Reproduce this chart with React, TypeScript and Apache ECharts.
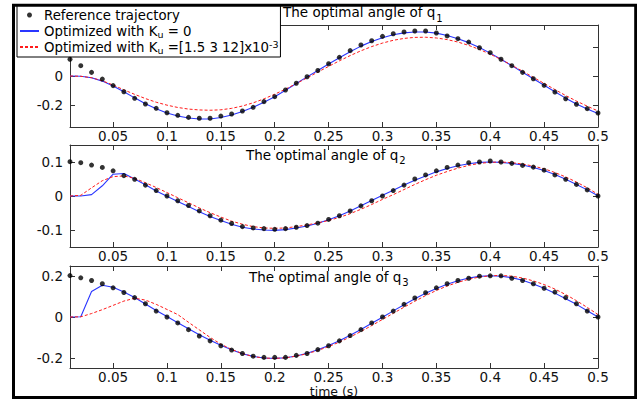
import React, { useEffect, useRef } from 'react';
import * as echarts from 'echarts';

const time = [
  0.01, 0.02, 0.03, 0.04, 0.05, 0.06, 0.07, 0.08, 0.09, 0.10,
  0.11, 0.12, 0.13, 0.14, 0.15, 0.16, 0.17, 0.18, 0.19, 0.20,
  0.21, 0.22, 0.23, 0.24, 0.25, 0.26, 0.27, 0.28, 0.29, 0.30,
  0.31, 0.32, 0.33, 0.34, 0.35, 0.36, 0.37, 0.38, 0.39, 0.40,
  0.41, 0.42, 0.43, 0.44, 0.45, 0.46, 0.47, 0.48, 0.49, 0.50,
];

const q1Ref = [
  0.115, 0.071, 0.025, -0.021, -0.066, -0.108, -0.153, -0.192, -0.222, -0.252,
  -0.270, -0.284, -0.290, -0.290, -0.275, -0.261, -0.240, -0.215, -0.176, -0.142,
  -0.096, -0.050, -0.005, 0.038, 0.084, 0.128, 0.174, 0.213, 0.242, 0.272,
  0.290, 0.302, 0.309, 0.309, 0.295, 0.275, 0.256, 0.233, 0.194, 0.160,
  0.115, 0.071, 0.025, -0.019, -0.064, -0.110, -0.156, -0.194, -0.224, -0.254,
];
const q1Zero = [
  0, -0.002, -0.012, -0.035, -0.068, -0.108, -0.150, -0.190, -0.224, -0.254,
  -0.274, -0.288, -0.295, -0.295, -0.285, -0.268, -0.244, -0.214, -0.180, -0.143,
  -0.098, -0.052, -0.006, 0.038, 0.082, 0.125, 0.167, 0.205, 0.237, 0.263,
  0.283, 0.296, 0.302, 0.302, 0.294, 0.278, 0.256, 0.229, 0.195, 0.157,
  0.115, 0.071, 0.026, -0.019, -0.064, -0.108, -0.152, -0.192, -0.226, -0.258,
];
const q1Ku = [
  0, -0.002, -0.012, -0.033, -0.062, -0.095, -0.126, -0.155, -0.180, -0.200,
  -0.216, -0.227, -0.233, -0.235, -0.232, -0.222, -0.206, -0.184, -0.157, -0.125,
  -0.090, -0.052, -0.013, 0.027, 0.066, 0.104, 0.140, 0.173, 0.202, 0.226,
  0.245, 0.258, 0.265, 0.266, 0.261, 0.250, 0.233, 0.210, 0.182, 0.150,
  0.113, 0.074, 0.033, -0.009, -0.051, -0.093, -0.134, -0.172, -0.207, -0.240,
];

const q2Ref = [
  0.101, 0.098, 0.091, 0.084, 0.074, 0.060, 0.049, 0.032, 0.016, 0.000,
  -0.014, -0.028, -0.044, -0.058, -0.071, -0.081, -0.090, -0.094, -0.096, -0.098,
  -0.096, -0.092, -0.087, -0.080, -0.069, -0.058, -0.044, -0.029, -0.014, 0.000,
  0.016, 0.032, 0.050, 0.062, 0.074, 0.084, 0.091, 0.098, 0.100, 0.103,
  0.100, 0.096, 0.090, 0.085, 0.076, 0.062, 0.049, 0.034, 0.018, 0.000,
];
const q2Zero = [
  0, 0, 0.004, 0.030, 0.064, 0.066, 0.050, 0.033, 0.015, -0.001,
  -0.016, -0.031, -0.046, -0.060, -0.072, -0.083, -0.092, -0.097, -0.100, -0.101,
  -0.099, -0.094, -0.088, -0.080, -0.070, -0.058, -0.044, -0.029, -0.013, 0.002,
  0.017, 0.032, 0.046, 0.059, 0.071, 0.081, 0.089, 0.095, 0.099, 0.100,
  0.099, 0.096, 0.091, 0.084, 0.075, 0.063, 0.049, 0.034, 0.018, 0.001,
];
const q2Ku = [
  0, 0.002, 0.024, 0.045, 0.057, 0.059, 0.052, 0.039, 0.025, 0.010,
  -0.005, -0.020, -0.035, -0.049, -0.062, -0.074, -0.083, -0.090, -0.094, -0.095,
  -0.094, -0.090, -0.085, -0.079, -0.072, -0.063, -0.052, -0.039, -0.025, -0.010,
  0.004, 0.019, 0.034, 0.048, 0.061, 0.072, 0.082, 0.090, 0.096, 0.099,
  0.100, 0.098, 0.094, 0.088, 0.080, 0.069, 0.056, 0.041, 0.024, 0.005,
];

const q3Ref = [
  0.203, 0.192, 0.179, 0.163, 0.143, 0.120, 0.095, 0.065, 0.029, 0.000,
  -0.029, -0.062, -0.093, -0.117, -0.141, -0.162, -0.179, -0.192, -0.198, -0.198,
  -0.198, -0.188, -0.179, -0.160, -0.141, -0.117, -0.091, -0.062, -0.029, 0.000,
  0.029, 0.062, 0.093, 0.119, 0.143, 0.163, 0.179, 0.190, 0.200, 0.202,
  0.202, 0.190, 0.179, 0.163, 0.141, 0.122, 0.095, 0.065, 0.029, 0.000,
];
const q3Zero = [
  0, 0.001, 0.125, 0.156, 0.146, 0.122, 0.096, 0.064, 0.032, 0.002,
  -0.028, -0.058, -0.087, -0.114, -0.139, -0.161, -0.180, -0.193, -0.201, -0.203,
  -0.200, -0.191, -0.178, -0.161, -0.140, -0.116, -0.089, -0.061, -0.031, -0.001,
  0.030, 0.060, 0.089, 0.116, 0.140, 0.161, 0.178, 0.191, 0.199, 0.202,
  0.200, 0.193, 0.180, 0.162, 0.141, 0.117, 0.090, 0.062, 0.031, 0.000,
];
const q3Ku = [
  0, 0.001, 0.017, 0.036, 0.057, 0.078, 0.092, 0.083, 0.062, 0.037,
  0.012, -0.026, -0.063, -0.100, -0.133, -0.159, -0.179, -0.194, -0.201, -0.203,
  -0.200, -0.192, -0.180, -0.164, -0.145, -0.123, -0.098, -0.071, -0.042, -0.012,
  0.018, 0.048, 0.077, 0.105, 0.130, 0.152, 0.170, 0.185, 0.196, 0.202,
  0.204, 0.200, 0.191, 0.177, 0.159, 0.137, 0.110, 0.080, 0.047, 0.012,
];

const xTicks = [0.05, 0.1, 0.15, 0.2, 0.25, 0.3, 0.35, 0.4, 0.45, 0.5];
const yTicks1 = [-0.2, 0, 0.2];
const yLabels1 = [-0.2, 0];
const yTicks2 = [-0.1, 0, 0.1];
const yTicks3 = [-0.2, 0, 0.2];
const yRanges = [[-0.35, 0.35], [-0.15, 0.15], [-0.25, 0.25]];
const titleSubs = ['1', '2', '3'];

const NAME_REF = 'Reference trajectory';
const NAME_ZERO = 'Optimized with K_u = 0';
const NAME_KU = 'Optimized with K_u =[1.5 3 12]x10^-3';

const FONT = 'DejaVu Sans';
const AX = '#333';

export default function App() {
  const ref = useRef<HTMLDivElement>(null);
  useEffect(() => {
    document.body.style.margin = '0';
    const chart = echarts.init(ref.current!, null, { renderer: 'svg' });
    const grids = [
      { left: 70, top: 25, width: 528, height: 102 },
      { left: 70, top: 145, width: 528, height: 102 },
      { left: 70, top: 266, width: 528, height: 102 },
    ];
    const yTicksAll = [yTicks1, yTicks2, yTicks3];
    const yLabelsAll = [yLabels1, yTicks2, yTicks3];
    const refs = [q1Ref, q2Ref, q3Ref];
    const zeros = [q1Zero, q2Zero, q3Zero];
    const kus = [q1Ku, q2Ku, q3Ku];
    const fmt = (v: number) => String(Number(v.toFixed(3)));
    const labelStyle = { fontFamily: FONT, fontSize: 13.5, color: '#111' };

    const xAxis: any[] = [];
    const yAxis: any[] = [];
    const series: any[] = [];
    grids.forEach((g, i) => {
      const base = {
        gridIndex: i,
        type: 'value',
        min: 0.01,
        max: 0.5,
        splitLine: { show: false },
        axisLine: { show: true, onZero: false, lineStyle: { color: AX, width: 1 } },
        axisTick: { show: true, inside: true, length: 5, customValues: xTicks, lineStyle: { color: AX } },
      };
      xAxis.push({
        ...base,
        position: 'bottom',
        axisLabel: { ...labelStyle, margin: 2, customValues: xTicks, formatter: fmt },
        ...(i === 2
          ? {
              name: 'time (s)',
              nameLocation: 'middle',
              nameGap: 12,
              nameTextStyle: { fontFamily: FONT, fontSize: 12.5, color: '#111', verticalAlign: 'top' },
            }
          : {}),
      });
      xAxis.push({ ...base, position: 'top', axisLabel: { show: false } });
      const ybase = {
        gridIndex: i,
        type: 'value',
        min: yRanges[i][0],
        max: yRanges[i][1],
        splitLine: { show: false },
        axisLine: { show: true, onZero: false, lineStyle: { color: AX, width: 1 } },
        axisTick: { show: true, inside: true, length: 5, customValues: yTicksAll[i], lineStyle: { color: AX } },
      };
      yAxis.push({
        ...ybase,
        position: 'left',
        axisLabel: { ...labelStyle, margin: 7, customValues: yLabelsAll[i], formatter: fmt },
      });
      yAxis.push({ ...ybase, position: 'right', axisLabel: { show: false } });

      const pts = (arr: number[]) => time.map((t, k) => [t, arr[k]]);
      series.push({
        name: NAME_ZERO,
        type: 'line',
        xAxisIndex: 2 * i,
        yAxisIndex: 2 * i,
        data: pts(zeros[i]),
        symbol: 'none',
        showSymbol: false,
        lineStyle: { color: '#2a36ff', width: 1.1 },
        itemStyle: { color: '#2a36ff' },
        z: 3,
      });
      series.push({
        name: NAME_KU,
        type: 'line',
        xAxisIndex: 2 * i,
        yAxisIndex: 2 * i,
        data: pts(kus[i]),
        symbol: 'none',
        showSymbol: false,
        lineStyle: { color: '#ff1a1a', width: 1, type: [3, 2] },
        itemStyle: { color: '#ff1a1a' },
        z: 4,
      });
      series.push({
        name: NAME_REF,
        type: 'scatter',
        xAxisIndex: 2 * i,
        yAxisIndex: 2 * i,
        data: pts(refs[i]),
        symbol: 'circle',
        symbolSize: 5,
        itemStyle: { color: '#000' },
        z: 5,
      });
    });

    const mainTok = { fontFamily: FONT, fontSize: 13.3, color: '#000', lineHeight: 16, verticalAlign: 'top', padding: [2, 0, 0, 0] };
    const subTok = { fontFamily: FONT, fontSize: 9.5, color: '#000', lineHeight: 16, verticalAlign: 'top', padding: [6, 0, 0, 0] };
    const supTok = { fontFamily: FONT, fontSize: 9.5, color: '#000', lineHeight: 16, verticalAlign: 'top', padding: [0, 0, 0, 0] };

    const legendText: Record<string, string> = {
      [NAME_REF]: '{m|Reference trajectory}',
      [NAME_ZERO]: '{m|Optimized with K}{s|u}{m| = 0}',
      [NAME_KU]: '{m|Optimized with K}{s|u}{m| =[1.5 3 12]x10}{p|-3}',
    };

    const titleMain = { fontFamily: FONT, fontSize: 13.5, fill: '#000', verticalAlign: 'top' };
    const titleSub = { fontFamily: FONT, fontSize: 10, fill: '#000', verticalAlign: 'top', padding: [8, 0, 0, 1] };
    const titlePos = [[283, 5], [246, 147.5], [249, 269.5]];

    const option: any = {
      animation: false,
      backgroundColor: '#fff',
      grid: grids,
      xAxis,
      yAxis,
      series,
      legend: {
        data: [
          { name: NAME_REF },
          { name: NAME_ZERO, itemStyle: { opacity: 0 } },
          { name: NAME_KU, itemStyle: { opacity: 0 } },
        ],
        orient: 'vertical',
        left: 17,
        top: 5,
        padding: [2, 2, 2, 2],
        itemGap: 0,
        itemWidth: 19,
        itemHeight: 5,
        backgroundColor: '#fff',
        borderColor: '#000',
        borderWidth: 1,
        borderRadius: 0,
        selectedMode: false,
        formatter: (name: string) => legendText[name] || name,
        textStyle: {
          fontFamily: FONT,
          fontSize: 13.3,
          color: '#000',
          lineHeight: 16,
          rich: { m: mainTok, s: subTok, p: supTok },
        },
      },
      graphic: [
        ...titleSubs.map((s, i) => ({
          type: 'text',
          x: titlePos[i][0],
          y: titlePos[i][1],
          z: 10,
          style: {
            text: '{a|The optimal angle of q}{b|' + s + '}',
            rich: { a: titleMain, b: titleSub },
            fill: '#000',
            fontFamily: FONT,
            fontSize: 13.5,
            verticalAlign: 'top',
          },
        })),
        {
          type: 'rect',
          z: 100,
          shape: { x: 13.5, y: 5.3, width: 622.2, height: 392.2 },
          style: { fill: 'none', stroke: '#000', lineWidth: 3 },
        },
      ],
    };
    chart.setOption(option);
    return () => chart.dispose();
  }, []);
  return <div ref={ref} style={{ width: 637, height: 400, background: '#fff' }} />;
}
